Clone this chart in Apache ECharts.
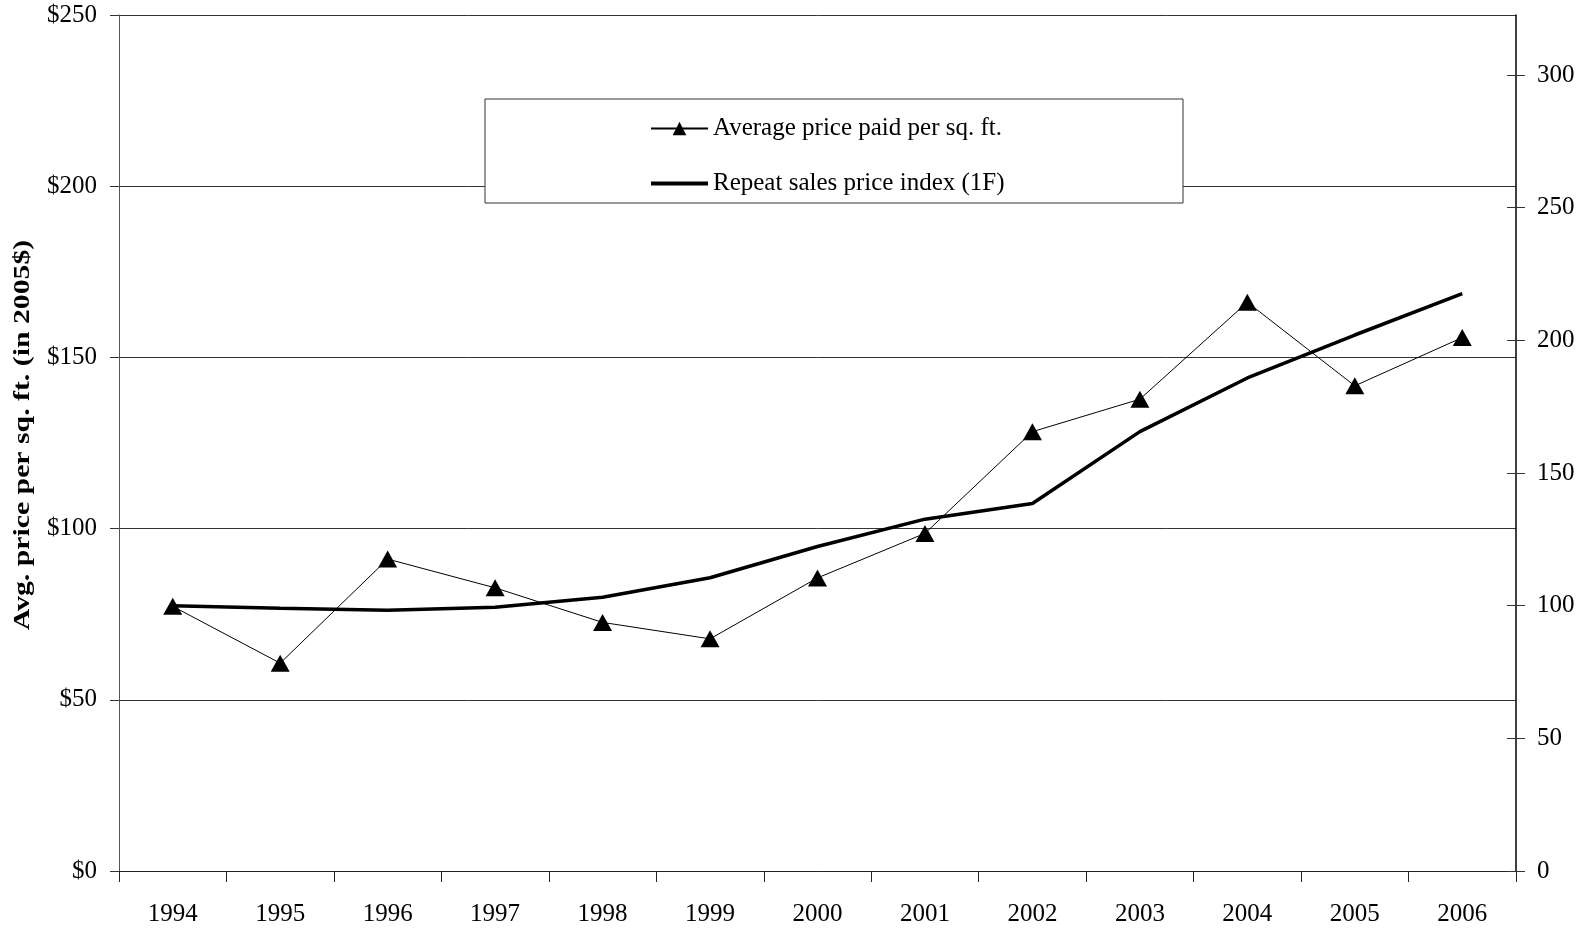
<!DOCTYPE html>
<html>
<head>
<meta charset="utf-8">
<script src="https://cdn.jsdelivr.net/npm/echarts@6/dist/echarts.min.js"></script>
<style>
html,body{margin:0;padding:0;background:#fff;}
#chart{width:1578px;height:928px;}
</style>
</head>
<body>
<div id="chart"></div>
<script>
const years = ['1994','1995','1996','1997','1998','1999','2000','2001','2002','2003','2004','2005','2006'];
const avgPrice = [77.3, 60.7, 91.1, 82.7, 72.6, 67.8, 85.6, 98.6, 128.3, 137.8, 166.1, 141.7, 155.8];
const repeatIndex = [100, 99.0, 98.3, 99.4, 103.2, 110.5, 122.3, 132.6, 138.5, 165.6, 185.8, 202.0, 217.6];
const rightTicks = [0, 50, 100, 150, 200, 250, 300];
const seriesNames = ['Average price paid per sq. ft.', 'Repeat sales price index (1F)'];
const leftAxisName = 'Avg. price per sq. ft. (in 2005$)';

const FONT = '"Liberation Serif", "Times New Roman", serif';
const chart = echarts.init(document.getElementById('chart'));
chart.setOption({
  backgroundColor: '#fff',
  animation: false,
  textStyle: { fontFamily: FONT, color: '#000' },
  grid: { left: 119, right: 62, top: 15, bottom: 57 },
  graphic: [{
    type: 'rect', z: 3,
    shape: { x: 485, y: 99, width: 698, height: 104 },
    style: { fill: '#fff', stroke: '#333', lineWidth: 1 }
  }, {
    type: 'text', z: 5,
    x: 23, y: 435, rotation: Math.PI / 2, scaleX: 1.24,
    style: {
      text: leftAxisName, font: 'bold 24px ' + FONT, fill: '#000',
      align: 'center', verticalAlign: 'middle'
    }
  }],
  legend: {
    orient: 'vertical', left: 645, top: 111, z: 5,
    itemGap: 30, itemWidth: 57, itemHeight: 17, symbolKeepAspect: true,
    textStyle: { fontFamily: FONT, fontSize: 25, color: '#000', lineHeight: 25 },
    data: [
      { name: seriesNames[0] },
      { name: seriesNames[1], icon: 'path://M0,0h57v4h-57z' }
    ]
  },
  xAxis: {
    type: 'category', data: years, boundaryGap: true,
    axisLine: { lineStyle: { color: '#222', width: 1 } },
    axisTick: { show: true, length: 11, lineStyle: { color: '#222' } },
    axisLabel: { fontFamily: FONT, fontSize: 25, color: '#000', margin: 31 },
    splitLine: { show: false }
  },
  yAxis: [{
    type: 'value', min: 0, max: 250, interval: 50, position: 'left',
    axisLine: { show: true, lineStyle: { color: '#555' } },
    axisTick: { show: true, length: 9, lineStyle: { color: '#333' } },
    axisLabel: { fontFamily: FONT, fontSize: 25, color: '#000', margin: 22, formatter: v => '$' + v },
    splitLine: { show: true, lineStyle: { color: '#333', width: 1 } }
  }, {
    type: 'value', min: 0, max: 322.6, interval: 50, position: 'right',
    axisLine: { show: true, lineStyle: { color: '#000', width: 1.5 } },
    axisTick: { show: true, length: 9, inside: false, customValues: rightTicks, lineStyle: { color: '#333' } },
    axisLabel: { fontFamily: FONT, fontSize: 25, color: '#000', margin: 21, customValues: rightTicks },
    splitLine: { show: false }
  }, {
    type: 'value', min: 0, max: 322.6, interval: 50, position: 'right',
    axisLine: { show: false },
    axisTick: { show: true, length: 9, inside: true, customValues: rightTicks, lineStyle: { color: '#333' } },
    axisLabel: { show: false },
    splitLine: { show: false }
  }],
  series: [{
    name: seriesNames[0], type: 'line', yAxisIndex: 0, data: avgPrice,
    symbol: 'triangle', symbolSize: [19, 17], showAllSymbol: true, z: 3,
    lineStyle: { color: '#000', width: 1 },
    itemStyle: { color: '#000', borderWidth: 0 }
  }, {
    name: seriesNames[1], type: 'line', yAxisIndex: 1, data: repeatIndex,
    symbol: 'none', z: 2,
    lineStyle: { color: '#000', width: 3.5 },
    itemStyle: { color: '#000' }
  }]
});
</script>
</body>
</html>
